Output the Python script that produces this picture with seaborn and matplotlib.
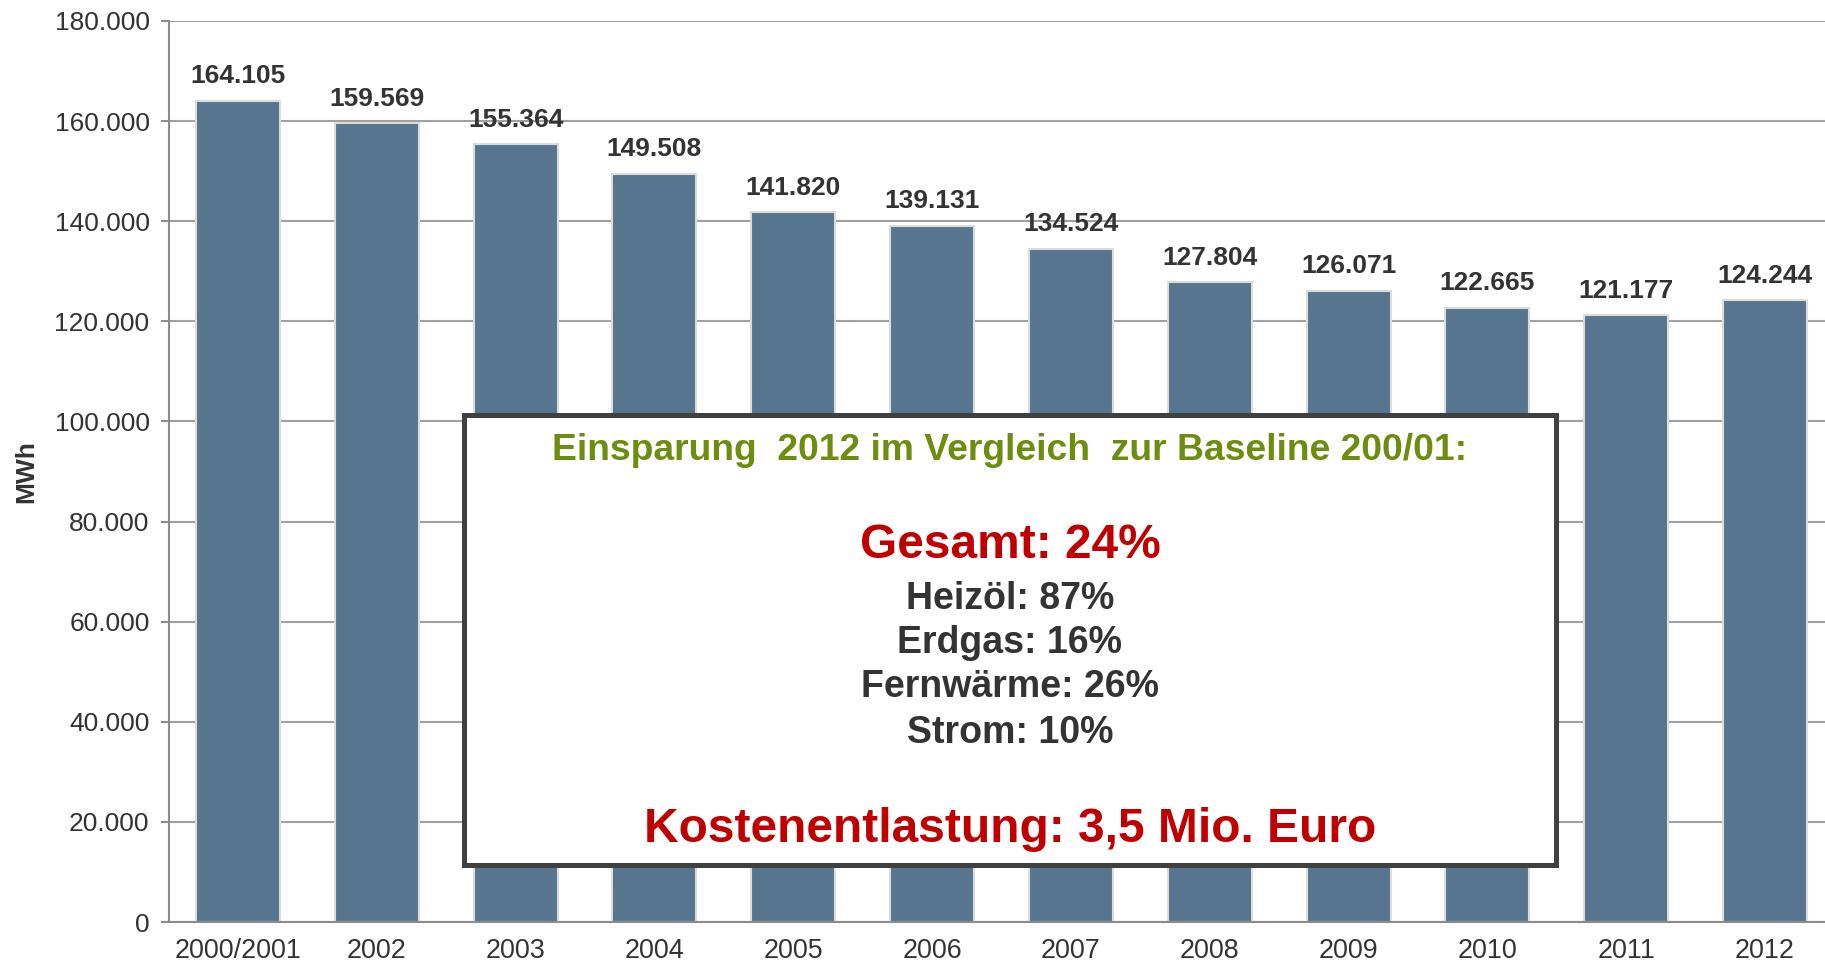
import matplotlib
matplotlib.use("Agg")
import matplotlib.pyplot as plt
import seaborn as sns
import pandas as pd
from matplotlib.ticker import FuncFormatter, MultipleLocator
from matplotlib.patches import Rectangle

# ------------------------------------------
# DATA
# ------------------------------------------
years = ["2000/2001", "2002", "2003", "2004", "2005", "2006",
         "2007", "2008", "2009", "2010", "2011", "2012"]
mwh = [164105, 159569, 155364, 149508, 141820, 139131,
       134524, 127804, 126071, 122665, 121177, 124244]

box_title = "Einsparung  2012 im Vergleich  zur Baseline 200/01:"
box_total = "Gesamt: 24%"
box_lines = ["Heizöl: 87%", "Erdgas: 16%", "Fernwärme: 26%", "Strom: 10%"]
box_cost = "Kostenentlastung: 3,5 Mio. Euro"

df = pd.DataFrame({"Jahr": years, "MWh": mwh})

# ------------------------------------------
# STYLE
# ------------------------------------------
sns.set_theme(style="white")
plt.rcParams['font.family'] = ['Liberation Sans', 'DejaVu Sans']

bar_color = "#58758F"
text_dark = "#333333"
grid_gray = "#a0a0a0"


def de_fmt(v, pos=None):
    return f"{v:,.0f}".replace(",", ".")


fig = plt.figure(figsize=(18.25, 9.65), dpi=100)
ax = fig.add_axes([169 / 1825, 43 / 965, 1656 / 1825, 901 / 965])

sns.barplot(
    data=df,
    x="Jahr",
    y="MWh",
    color=bar_color,
    saturation=1,
    width=0.605,
    edgecolor="#dcdcdc",
    linewidth=1.5,
    ax=ax
)

ax.set_ylim(0, 180000)
ax.set_xlim(-0.497, 11.432)
ax.yaxis.set_major_locator(MultipleLocator(20000))
ax.yaxis.set_major_formatter(FuncFormatter(de_fmt))
ax.set_axisbelow(True)
ax.grid(axis="y", color=grid_gray, linewidth=1.5)
ax.grid(axis="x", visible=False)

for side in ["top", "right"]:
    ax.spines[side].set_visible(False)
for side in ["left", "bottom"]:
    ax.spines[side].set_color("#8c8c8c")
    ax.spines[side].set_linewidth(1.5)

ax.tick_params(axis="y", length=6, width=1.5, color="#8c8c8c",
               pad=8, labelsize=19, labelcolor=text_dark, left=True)
ax.tick_params(axis="x", length=0, pad=11.5, labelsize=19.4, labelcolor=text_dark)

ax.set_xlabel("")
ax.set_ylabel("MWh", fontsize=19, fontweight="bold", color=text_dark)
ax.yaxis.set_label_coords(-0.079, 0.5)

# value labels
ax.bar_label(ax.containers[0], labels=[de_fmt(v) for v in mwh],
             padding=9, fontsize=19, fontweight="bold", color=text_dark)

# ------------------------------------------
# INFO BOX
# ------------------------------------------
box = Rectangle((464.5 / 1825, 1 - 864.5 / 965), (1556.5 - 464.5) / 1825,
                (864.5 - 414.5) / 965, transform=fig.transFigure,
                facecolor="white", edgecolor="#404040", linewidth=3.6,
                zorder=5)
fig.patches.append(box)

cx = 1010 / 1825
fig.text(cx, 1 - 451 / 965, box_title, ha="center", va="center",
         fontsize=26.8, fontweight="bold", color="#6B8E0F", zorder=6)
fig.text(cx, 1 - 546 / 965, box_total, ha="center", va="center",
         fontsize=34.5, fontweight="bold", color="#C00000", zorder=6)
for i, line in enumerate(box_lines):
    y_px = [599, 643, 687, 733][i]
    fig.text(cx, 1 - y_px / 965, line, ha="center", va="center",
             fontsize=27, fontweight="bold", color=text_dark, zorder=6)
fig.text(cx, 1 - 829 / 965, box_cost, ha="center", va="center",
         fontsize=34.5, fontweight="bold", color="#C00000", zorder=6)

fig.savefig("out.png", dpi=100)
